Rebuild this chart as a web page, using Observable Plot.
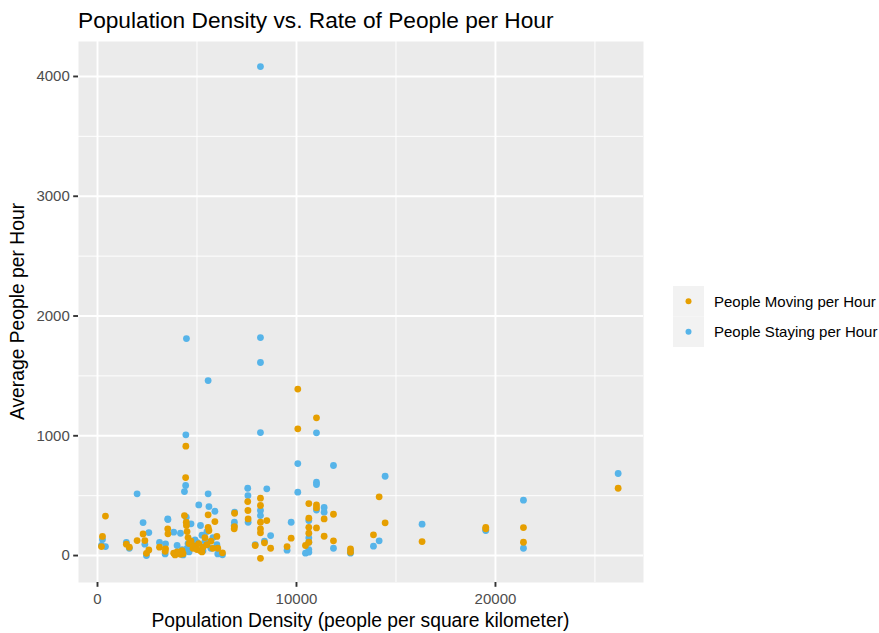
<!DOCTYPE html>
<html><head><meta charset="utf-8">
<script src="https://cdn.jsdelivr.net/npm/d3@7"></script>
<script src="https://cdn.jsdelivr.net/npm/@observablehq/plot@0.6"></script>
<style>
body{margin:0;background:#fff;}
#chart{width:879px;height:633px;}
</style></head><body>
<div id="chart"></div>
<script>
const titleText = "Population Density vs. Rate of People per Hour";
const xTitle = "Population Density (people per square kilometer)";
const yTitle = "Average People per Hour";
const seriesNames = ["People Moving per Hour", "People Staying per Hour"];
const seriesColors = ["#E69F00", "#56B4E9"];
const xTicks = [0, 10000, 20000];
const yTicks = [0, 1000, 2000, 3000, 4000];

const density = [
  250, 200, 400, 1450, 1600, 1990, 2290, 2380, 2580, 2460,
  3116, 3420, 3400, 3530, 3540, 3830, 4000, 4170, 3900, 4100,
  4250, 4300, 4440, 4430, 4370, 4460, 4470, 4500, 4550, 4600,
  4700, 4800, 4900, 5090, 5176, 5000, 5250, 5560, 5560, 5600,
  5900, 5400, 5500, 5700, 5800, 5300, 6000, 6045, 6280, 6890,
  6880, 6870, 7550, 7560, 7570, 7925, 8190, 8190, 8190, 8190,
  8190, 8190, 8508, 8391, 8700, 9527, 9733, 10066, 10066, 10620,
  10620, 10620, 10620, 10620, 10452, 11005, 11005, 11005, 11005, 11390,
  11390, 11859, 11859, 12714, 12714, 13869, 14155, 14455, 16312, 19513,
  19513, 21407, 21407, 26166
];
const moving = [
  160, 75, 330, 95, 70, 125, 180, 125, 47, 19,
  70, 56, 35, 223, 181, 20, 30, 10, 5, 25,
  40, 15, 913, 651, 334, 278, 251, 200, 150, 100,
  120, 60, 80, 100, 40, 50, 30, 340, 236, 209,
  284, 150, 90, 120, 60, 70, 160, 61, 23, 353,
  242, 223, 451, 376, 306, 84, 479, 418, 278, 223,
  190, -23, 292, 106, 61, 75, 145, 1390, 1058, 434,
  312, 236, 186, 111, 84, 1150, 423, 398, 231, 306,
  161, 345, 123, 56, 28, 173, 490, 273, 117, 236,
  223, 234, 111, 562
];
const staying = [
  135, 85, 75, 110, 60, 515, 275, 95, 192, 0,
  110, 98, 14, 306, 300, 195, 84, 186, 10, 20,
  50, 5, 1008, 585, 534, 320, 1812, 60, 100, 30,
  265, 90, 130, 423, 251, 110, 170, 1461, 515, 409,
  370, 120, 200, 60, 150, 40, 90, 14, 6, 362,
  278, 250, 562, 501, 278, 92, 4083, 1820, 1612, 1027,
  376, 334, 557, 120, 167, 45, 278, 768, 529, 292,
  148, 111, 28, 50, 20, 1025, 612, 593, 380, 401,
  362, 752, 61, 40, 20, 78, 123, 662, 262, 209,
  215, 462, 61, 685
];

const stayRows = density.map((d, i) => ({x: d, y: staying[i], s: seriesNames[1]}));
const moveRows = density.map((d, i) => ({x: d, y: moving[i], s: seriesNames[0]}));

const W = 879, H = 633;
const mL = 78, mR = 236, mT = 41, mB = 51;
const font = "'Liberation Sans', Arial, sans-serif";

const plot = Plot.plot({
  width: W, height: H,
  marginLeft: mL, marginRight: mR, marginTop: mT, marginBottom: mB,
  style: {fontFamily: font, fontSize: "15px", background: "white", color: "#4D4D4D", overflow: "visible"},
  x: {domain: [-955, 27440], label: null},
  y: {domain: [-225, 4292], label: null},
  color: {domain: seriesNames, range: seriesColors},
  marks: [
    Plot.frame({fill: "#EBEBEB", stroke: null}),
    Plot.gridX([5000, 15000, 25000], {stroke: "white", strokeOpacity: 1, strokeWidth: 0.95}),
    Plot.gridY([500, 1500, 2500, 3500], {stroke: "white", strokeOpacity: 1, strokeWidth: 0.95}),
    Plot.gridX(xTicks, {stroke: "white", strokeOpacity: 1, strokeWidth: 1.9}),
    Plot.gridY(yTicks, {stroke: "white", strokeOpacity: 1, strokeWidth: 1.9}),
    Plot.dot(stayRows, {x: "x", y: "y", fill: "s", r: 3.4, stroke: null}),
    Plot.dot(moveRows, {x: "x", y: "y", fill: "s", r: 3.4, stroke: null}),
    Plot.axisX({ticks: xTicks, tickSize: 4.8, tickPadding: 6.5, label: null, stroke: "#333333", strokeWidth: 1.9, fill: "#4D4D4D", tickFormat: d => String(d)}),
    Plot.axisY({ticks: yTicks, tickSize: 4.8, tickPadding: 3.9, label: null, stroke: "#333333", strokeWidth: 1.9, fill: "#4D4D4D", tickFormat: d => String(d)})
  ]
});
document.getElementById("chart").appendChild(plot);

const svg = d3.select(plot);
svg.append("text").attr("x", mL).attr("y", 28).attr("text-anchor", "start")
  .attr("font-family", font).attr("font-size", 22.7).attr("fill", "#000")
  .text(titleText);
svg.append("text").attr("x", (mL + W - mR) / 2).attr("y", 627)
  .attr("text-anchor", "middle").attr("font-family", font).attr("font-size", 19.3).attr("fill", "#000")
  .text(xTitle);
svg.append("text").attr("transform", `translate(24,${(mT + H - mB) / 2}) rotate(-90)`)
  .attr("text-anchor", "middle").attr("font-family", font).attr("font-size", 19.3).attr("fill", "#000")
  .text(yTitle);

// legend
const lg = svg.append("g").attr("transform", "translate(673,286)");
seriesNames.forEach((name, i) => {
  const g = lg.append("g").attr("transform", `translate(0,${i * 30.5})`);
  g.append("rect").attr("width", 31).attr("height", 30.5).attr("fill", "#F2F2F2");
  g.append("circle").attr("cx", 15.5).attr("cy", 15.25).attr("r", 3).attr("fill", seriesColors[i]);
  g.append("text").attr("x", 41).attr("y", 15.25 + 5.4).attr("text-anchor", "start")
    .attr("font-family", font).attr("font-size", 15).attr("fill", "#000").text(name);
});
</script>
</body></html>
